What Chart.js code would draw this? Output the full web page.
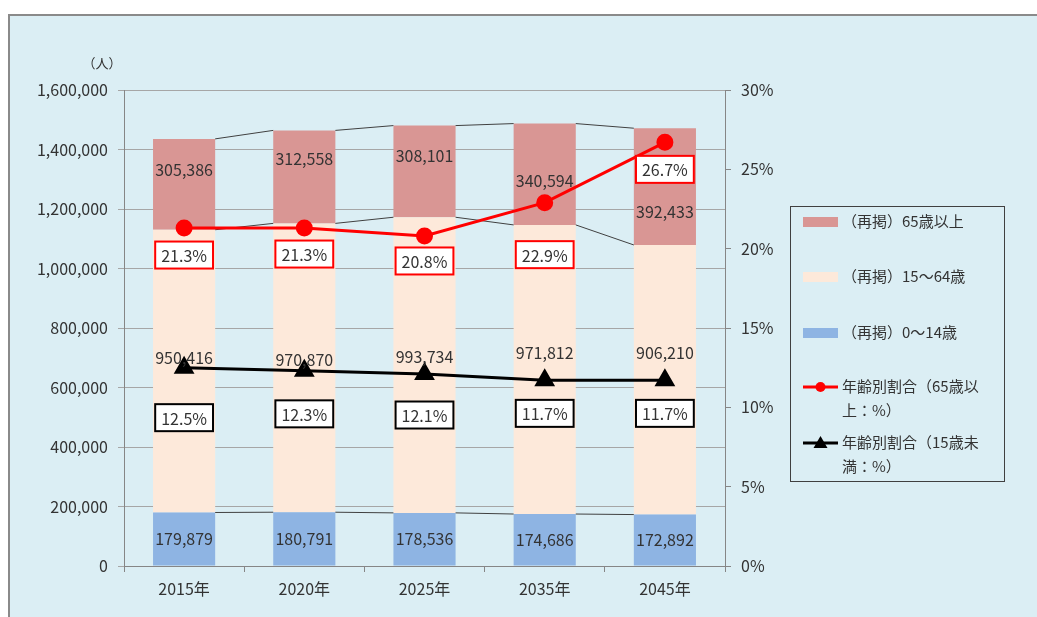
<!DOCTYPE html>
<html lang="ja">
<head>
<meta charset="utf-8">
<script src="https://cdn.jsdelivr.net/npm/chart.js@4.4.1/dist/chart.umd.min.js"></script>
<style>
  html, body { margin: 0; padding: 0; background: #fff; }
  #frame {
    position: absolute; left: 8px; top: 14px; width: 1029px; height: 603px;
    box-sizing: border-box; background: #DBEEF4;
    border-left: 2px solid #8a8a8a; border-top: 2px solid #8a8a8a;
  }
  #wrap { position: absolute; left: 0; top: 0; width: 1037px; height: 617px; }
</style>
</head>
<body>
<div id="frame"></div>
<div id="wrap"><canvas id="chart" width="1037" height="617"></canvas></div>
<script>
const years = ["2015年", "2020年", "2025年", "2035年", "2045年"];

const age0to14 = [179879, 180791, 178536, 174686, 172892];
const age15to64 = [950416, 970870, 993734, 971812, 906210];
const age65plus = [305386, 312558, 308101, 340594, 392433];

// 割合（%）
const rate65plus = [21.3, 21.3, 20.8, 22.9, 26.7];
const rateUnder15 = [12.5, 12.3, 12.1, 11.7, 11.7];

const leftTicks = [0, 200000, 400000, 600000, 800000, 1000000, 1200000, 1400000, 1600000];
const rightTicks = [0, 5, 10, 15, 20, 25, 30];

const FONT = "'Noto Sans CJK JP', 'Noto Sans', sans-serif";
const TEXT = "#333333";

// 数値ラベルの位置調整（px、上が負）
const barLabelNudge = [
  [0, 0, 0, 0, 0],
  [-13, -8, -8, -17, -27],
  [-14, -18, -15, 7, 25]
];
const rateLabelDrop = [
  [27, 26, 25, 52, 27],
  [50, 43, 41, 33, 33]
];

const fmt = v => v.toLocaleString("en-US");

// 棒の間の区分線
const seriesLines = {
  id: "seriesLines",
  beforeDatasetsDraw(chart) { chart.$seriesDone = false; },
  beforeDatasetDraw(chart, args) {
    if (args.meta.type !== "line" || chart.$seriesDone) return;
    chart.$seriesDone = true;
    const ctx = chart.ctx;
    ctx.save();
    ctx.strokeStyle = "#404040";
    ctx.lineWidth = 1;
    chart.data.datasets.forEach((ds, di) => {
      if (ds.type !== "bar") return;
      const els = chart.getDatasetMeta(di).data;
      for (let i = 0; i < els.length - 1; i++) {
        const a = els[i], b = els[i + 1];
        ctx.beginPath();
        ctx.moveTo(a.x + a.width / 2, a.y);
        ctx.lineTo(b.x - b.width / 2, b.y);
        ctx.stroke();
      }
    });
    ctx.restore();
  }
};

const valueLabels = {
  id: "valueLabels",
  afterDatasetsDraw(chart) {
    const ctx = chart.ctx;
    ctx.save();
    ctx.font = "16px " + FONT;
    ctx.textAlign = "center";
    ctx.textBaseline = "middle";
    let barIdx = 0, lineIdx = 0;
    chart.data.datasets.forEach((ds, di) => {
      const els = chart.getDatasetMeta(di).data;
      if (ds.type === "bar") {
        const nudge = barLabelNudge[barIdx++];
        els.forEach((el, i) => {
          ctx.fillStyle = TEXT;
          ctx.fillText(fmt(ds.data[i]), el.x, (el.y + el.base) / 2 + nudge[i]);
        });
      } else {
        const drop = rateLabelDrop[lineIdx++];
        els.forEach((el, i) => {
          const txt = ds.data[i].toFixed(1) + "%";
          const w = ctx.measureText(txt).width + 12;
          const h = 27;
          const cy = el.y + drop[i];
          ctx.fillStyle = "#fff";
          ctx.fillRect(el.x - w / 2, cy - h / 2, w, h);
          ctx.strokeStyle = ds.borderColor;
          ctx.lineWidth = 2;
          ctx.strokeRect(el.x - w / 2, cy - h / 2, w, h);
          ctx.fillStyle = TEXT;
          ctx.fillText(txt, el.x, cy + 1);
        });
      }
    });
    ctx.restore();
  }
};

// 凡例（枠付き、右側）
const sideLegend = {
  id: "sideLegend",
  afterDraw(chart, args, opts) {
    const ctx = chart.ctx;
    const { x, y, w, h, rows } = opts;
    ctx.save();
    ctx.strokeStyle = "#404040";
    ctx.lineWidth = 1;
    ctx.strokeRect(x + 0.5, y + 0.5, w, h);
    ctx.font = "15px " + FONT;
    ctx.textBaseline = "middle";
    ctx.textAlign = "left";
    const legendOrder = [2, 1, 0, 3, 4];
    legendOrder.forEach((di, k) => {
      const ds = chart.data.datasets[di];
      const ry = rows[k];
      const sx = x + 13, sw = 35;
      if (ds.type === "bar") {
        ctx.fillStyle = ds.backgroundColor;
        ctx.fillRect(sx, ry - 5, sw, 10);
      } else {
        ctx.strokeStyle = ds.borderColor;
        ctx.lineWidth = 3;
        ctx.beginPath();
        ctx.moveTo(sx, ry);
        ctx.lineTo(sx + sw, ry);
        ctx.stroke();
        ctx.fillStyle = ds.borderColor;
        ctx.beginPath();
        if (ds.pointStyle === "circle") {
          ctx.arc(sx + sw / 2, ry, 5, 0, Math.PI * 2);
        } else {
          ctx.moveTo(sx + sw / 2, ry - 7);
          ctx.lineTo(sx + sw / 2 + 7, ry + 5);
          ctx.lineTo(sx + sw / 2 - 7, ry + 5);
          ctx.closePath();
        }
        ctx.fill();
      }
      // 折り返し
      const maxW = 145;
      const lines = [];
      let cur = "";
      for (const ch of ds.label) {
        if (ctx.measureText(cur + ch).width > maxW && cur) {
          lines.push(cur);
          cur = ch;
        } else cur += ch;
      }
      lines.push(cur);
      ctx.fillStyle = TEXT;
      lines.forEach((ln, j) => ctx.fillText(ln, x + 52, ry - 1 + j * 24));
    });
    ctx.restore();
  }
};

const unitLabel = {
  id: "unitLabel",
  afterDraw(chart) {
    const ctx = chart.ctx;
    ctx.save();
    ctx.font = "13px " + FONT;
    ctx.fillStyle = TEXT;
    ctx.textAlign = "center";
    ctx.textBaseline = "middle";
    ctx.fillText("（人）", 102, 63);
    ctx.restore();
  }
};

new Chart(document.getElementById("chart"), {
  data: {
    labels: years,
    datasets: [
      {
        type: "bar", label: "（再掲）0～14歳", data: age0to14,
        backgroundColor: "#8EB4E3", stack: "pop", yAxisID: "y", order: 1,
        categoryPercentage: 1, barPercentage: 0.517
      },
      {
        type: "bar", label: "（再掲）15～64歳", data: age15to64,
        backgroundColor: "#FDE9DA", stack: "pop", yAxisID: "y", order: 1,
        categoryPercentage: 1, barPercentage: 0.517
      },
      {
        type: "bar", label: "（再掲）65歳以上", data: age65plus,
        backgroundColor: "#D99694", stack: "pop", yAxisID: "y", order: 1,
        categoryPercentage: 1, barPercentage: 0.517
      },
      {
        type: "line", label: "年齢別割合（65歳以上：%）", data: rate65plus,
        yAxisID: "y1", order: 0,
        borderColor: "#FF0000", backgroundColor: "#FF0000", borderWidth: 3,
        pointStyle: "circle", pointRadius: 7, pointHoverRadius: 7, tension: 0
      },
      {
        type: "line", label: "年齢別割合（15歳未満：%）", data: rateUnder15,
        yAxisID: "y1", order: 0,
        borderColor: "#000000", backgroundColor: "#000000", borderWidth: 3,
        pointStyle: "triangle", pointRadius: 9, pointHoverRadius: 9, tension: 0
      }
    ]
  },
  options: {
    responsive: false,
    animation: false,
    events: [],
    layout: { padding: { left: 0, top: 90, right: 242, bottom: 0 } },
    plugins: {
      legend: { display: false },
      tooltip: { enabled: false },
      sideLegend: { x: 790, y: 206, w: 214, h: 275, rows: [222, 277, 333, 387, 443] }
    },
    scales: {
      x: {
        stacked: true,
        offset: true,
        grid: { offset: true, drawOnChartArea: false, drawTicks: true, tickLength: 6, color: "#868686" },
        border: { color: "#868686", width: 1 },
        ticks: { color: TEXT, font: { family: FONT, size: 16 }, padding: 7, maxRotation: 0 },
        afterFit(s) { s.height = 51; }
      },
      y: {
        stacked: true,
        position: "left",
        min: 0, max: 1600000,
        afterBuildTicks(s) { s.ticks = leftTicks.map(v => ({ value: v })); },
        grid: { color: "#A6A6A6", tickLength: 6 },
        border: { color: "#868686", width: 1 },
        ticks: { color: TEXT, font: { family: FONT, size: 16 }, padding: 10, callback: v => fmt(v) },
        afterFit(s) { s.width = 124; }
      },
      y1: {
        position: "right",
        min: 0, max: 30,
        afterBuildTicks(s) { s.ticks = rightTicks.map(v => ({ value: v })); },
        grid: { drawOnChartArea: false, tickLength: 6, color: "#868686" },
        border: { color: "#868686", width: 1 },
        ticks: { color: TEXT, font: { family: FONT, size: 16 }, padding: 10, callback: v => v + "%" },
        afterFit(s) { s.width = 70; }
      }
    }
  },
  plugins: [seriesLines, valueLabels, sideLegend, unitLabel]
});
</script>
</body>
</html>
